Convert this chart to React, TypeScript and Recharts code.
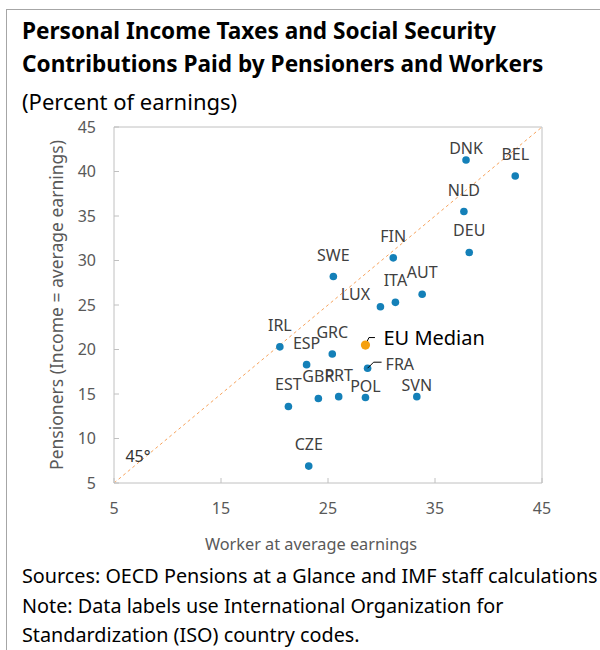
import React from 'react';
import { ScatterChart, Scatter, XAxis, YAxis, ReferenceLine, Label } from 'recharts';

const countries = ['DNK','BEL','NLD','DEU','FIN','SWE','AUT','ITA','LUX','IRL','ESP','GRC','FRA','GBR','PRT','POL','SVN','EST','CZE'];
const workerRate = [37.9,42.5,37.7,38.2,31.1,25.5,33.8,31.3,29.9,20.5,23.0,25.4,28.7,24.1,26.0,28.5,33.3,21.3,23.2];
const pensionerRate = [41.3,39.5,35.5,30.9,30.3,28.2,26.2,25.3,24.8,20.3,18.3,19.5,17.9,14.5,14.7,14.6,14.7,13.6,6.9];
// label placement style per country (Excel manual label adjustments)
const labelPlacement: Record<string, string> = { DNK: 'near', POL: 'near', SVN: 'near', LUX: 'left', FRA: 'leader' };

const medianName = ['EU Median'];
const medianWorker = [28.5];
const medianPensioner = [20.5];

const xTicks = [5, 15, 25, 35, 45];
const yTicks = [5, 10, 15, 20, 25, 30, 35, 40, 45];
const axisMin = 5;
const axisMax = 45;

const countryData = countries.map((c, i) => ({ name: c, x: workerRate[i], y: pensionerRate[i] }));
const medianData = medianName.map((c, i) => ({ name: c, x: medianWorker[i], y: medianPensioner[i] }));

const FONT = "'Segoe UI', 'Noto Sans', 'Open Sans', sans-serif";

const CountryShape = (props: any) => {
  const { cx, cy, payload } = props;
  const place = labelPlacement[payload.name] || 'up';
  let label: React.ReactNode;
  const common = { fontSize: 16, fill: '#404040', fontFamily: FONT };
  if (place === 'up') {
    label = <text x={cx} y={cy - 16} textAnchor="middle" {...common}>{payload.name}</text>;
  } else if (place === 'near') {
    label = <text x={cx} y={cy - 6} textAnchor="middle" {...common}>{payload.name}</text>;
  } else if (place === 'left') {
    label = <text x={cx - 25} y={cy - 7} textAnchor="middle" {...common}>{payload.name}</text>;
  } else {
    label = (
      <g>
        <polyline points={`${cx},${cy} ${cx + 6},${cy - 6} ${cx + 14},${cy - 6}`} fill="none" stroke="#000" strokeWidth={1} />
        <text x={cx + 18} y={cy + 2} textAnchor="start" {...common}>{payload.name}</text>
      </g>
    );
  }
  return (
    <g>
      <circle cx={cx} cy={cy} r={3.8} fill="#1480B8" />
      {label}
    </g>
  );
};

const MedianShape = (props: any) => {
  const { cx, cy, payload } = props;
  return (
    <g>
      <polyline points={`${cx},${cy} ${cx + 3.5},${cy - 7.5} ${cx + 9.5},${cy - 7.5}`} fill="none" stroke="#000" strokeWidth={1} />
      <circle cx={cx} cy={cy} r={4.6} fill="#F5A00F" />
      <text x={cx + 18} y={cy - 0} textAnchor="start" fontSize={20} fill="#000" fontFamily={FONT}>{payload.name}</text>
    </g>
  );
};

export default function App() {
  return (
    <div style={{ position: 'absolute', left: 0, top: 0, width: 600, height: 650, overflow: 'hidden', background: '#fff', fontFamily: FONT }}>
      <div style={{ position: 'absolute', left: 6, top: 9, width: 700, height: 700, border: '1px solid #a6a6a6' }} />
      <div style={{ position: 'absolute', left: 22, top: 14, fontWeight: 700, fontSize: 22.6, lineHeight: '33px', color: '#000', whiteSpace: 'nowrap' }}>
        Personal Income Taxes and Social Security<br />Contributions Paid by Pensioners and Workers
      </div>
      <div style={{ position: 'absolute', left: 22, top: 86, fontSize: 22, lineHeight: '30px', color: '#000', whiteSpace: 'nowrap' }}>
        (Percent of earnings)
      </div>
      <div style={{ position: 'absolute', left: 0, top: 0 }}>
        <ScatterChart width={600} height={560} margin={{ top: 127, right: 58, left: 0, bottom: 0 }}>
          <XAxis type="number" dataKey="x" domain={[axisMin, axisMax]} ticks={xTicks} height={77}
            axisLine={{ stroke: '#c0c0c0' }} tickLine={{ stroke: '#c0c0c0' }} tickSize={-5} tickMargin={25}
            tick={{ fill: '#595959', fontSize: 16, fontFamily: FONT }} allowDataOverflow>
            <Label value="Worker at average earnings" position="insideBottom" offset={10} dx={-17} fill="#595959" fontSize={16.3} fontFamily={FONT} />
          </XAxis>
          <YAxis type="number" dataKey="y" domain={[axisMin, axisMax]} ticks={yTicks} width={114}
            axisLine={{ stroke: '#c0c0c0' }} tickLine={{ stroke: '#c0c0c0' }} tickSize={-5} tickMargin={23}
            tick={{ fill: '#595959', fontSize: 16, fontFamily: FONT }} allowDataOverflow>
            <Label value="Pensioners (Income = average earnings)" angle={-90} position="insideLeft" offset={57} fill="#595959" fontSize={17.5} fontFamily={FONT} style={{ textAnchor: 'middle' }} />
          </YAxis>
          <ReferenceLine x={axisMax} stroke="#c0c0c0" />
          <ReferenceLine y={axisMax} stroke="#c0c0c0" />
          <ReferenceLine segment={[{ x: axisMin, y: axisMin }, { x: axisMax, y: axisMax }]} stroke="#F7A35C" strokeDasharray="3 3" strokeWidth={1}>
          </ReferenceLine>
          <ReferenceLine segment={[{ x: 5.6, y: 8.0 }, { x: 5.6, y: 8.0 }]} stroke="none" label={{ value: '45°', position: 'right', fill: '#333', fontSize: 16, fontFamily: FONT }} />
          <Scatter data={countryData} shape={CountryShape} isAnimationActive={false} />
          <Scatter data={medianData} shape={MedianShape} isAnimationActive={false} />
        </ScatterChart>
      </div>
      <div style={{ position: 'absolute', left: 22, top: 561, fontSize: 19.8, lineHeight: '29.5px', color: '#000', whiteSpace: 'nowrap' }}>
        Sources: OECD Pensions at a Glance and IMF staff calculations<br />
        Note: Data labels use International Organization for<br />
        Standardization (ISO) country codes.
      </div>
    </div>
  );
}
